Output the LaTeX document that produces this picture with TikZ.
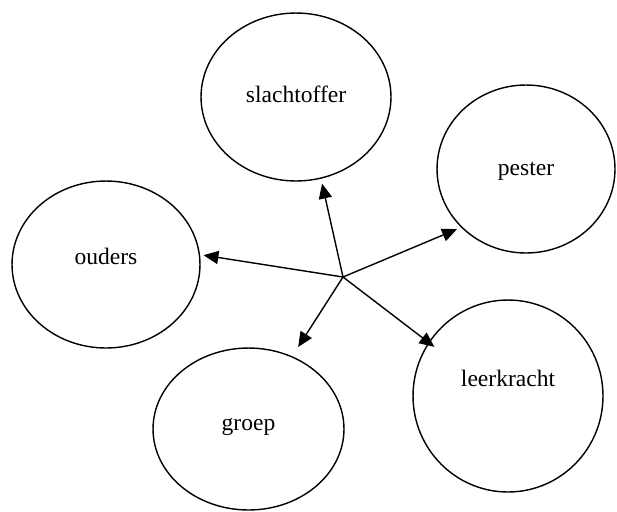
\documentclass[tikz,border=0pt]{standalone}
\usepackage{fontspec}
\setmainfont{Liberation Serif}
\usepackage{tikz}
\usetikzlibrary{arrows.meta,shapes.geometric}

\begin{document}
\begin{tikzpicture}[x=0.02cm, y=-0.02cm,
	rol/.style={draw, ellipse, line width=0.8pt, inner sep=0pt, font=\fontsize{13.4}{16}\selectfont},
	lift/.style={text depth=#1},
	pijl/.style={line width=0.8pt, -{Triangle[length=8.5pt,width=7.5pt]}}]
		\useasboundingbox (0,0) rectangle (617,511);
		
		\node[rol, minimum width=3.8cm, minimum height=3.36cm, lift=3.4pt] (slachtoffer) at (296,97) {slachtoffer};
		\node[rol, minimum width=3.56cm, minimum height=3.36cm, lift=0pt] (pester) at (526,169) {pester};
		\node[rol, minimum width=3.76cm, minimum height=3.34cm, lift=9.6pt] (ouders) at (106,264.5) {ouders};
		\node[rol, minimum width=3.82cm, minimum height=3.24cm, lift=5.7pt] (groep) at (248.5,429) {groep};
		\node[rol, minimum width=3.8cm, minimum height=3.84cm, lift=20.4pt] (leerkracht) at (508,396) {leerkracht};
		
		\coordinate (midden) at (343,277);
		\draw[pijl, shorten >=0.1cm] (midden) -- (slachtoffer.287);
		\draw[pijl, shorten >=0.09cm] (midden) -- (pester.222);
		\draw[pijl, shorten >=0.07cm] (midden) -- (ouders.6);
		\draw[pijl, shorten >=0.22cm] (midden) -- (groep.59);
		\draw[pijl, shorten >=-0.15cm] (midden) -- (leerkracht.146);
\end{tikzpicture}
\end{document}
